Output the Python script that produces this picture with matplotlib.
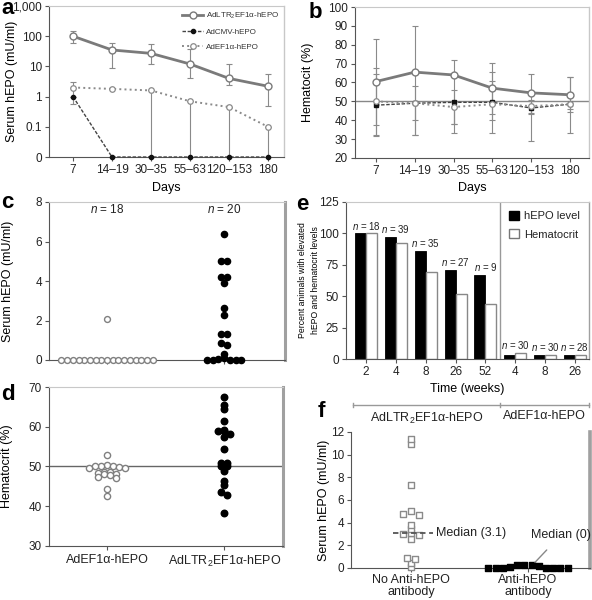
import numpy as np
import matplotlib
matplotlib.use('Agg')
import matplotlib.pyplot as plt
from matplotlib.patches import Patch
from matplotlib.ticker import NullLocator
import matplotlib.transforms as mtransforms

plt.rcParams['font.family'] = ['Liberation Sans', 'DejaVu Sans']
plt.rcParams['mathtext.fontset'] = 'custom'
plt.rcParams['mathtext.rm'] = 'Liberation Sans'
plt.rcParams['mathtext.it'] = 'Liberation Sans:italic'
plt.rcParams['font.size'] = 8.5
plt.rcParams['text.color'] = '#222222'

# ---------------- data ----------------
days = ['7', '14–19', '30–35', '55–63', '120–153', '180']
series_names = ['AdLTR$_2$EF1α-hEPO', 'AdCMV-hEPO', 'AdEF1α-hEPO']

a_ltr = [100, 35, 27, 12, 4, 2.2]
a_ltr_lo = [60, 9, 12, 4, 2.5, 0.5]
a_ltr_hi = [150, 60, 55, 38, 12, 5.5]
a_cmv = [1, 0, 0, 0, 0, 0]
a_cmv_lo = [0.55, 0, 0, 0, 0, 0]
a_cmv_hi = [1, 0, 0, 0, 0, 0]
a_ef = [2, 1.8, 1.6, 0.7, 0.45, 0.1]
a_ef_lo = [1, 1.8, 0, 0, 0, 0]
a_ef_hi = [3, 1.8, 1.6, 0.7, 0.45, 0.1]

b_ltr = [60.5, 65.5, 64, 57, 54.5, 53.5]
b_ltr_lo = [37.5, 32, 38, 43.5, 44, 44.5]
b_ltr_hi = [83, 90, 72, 70.5, 64.5, 63]
b_cmv = [48, 49, 49.5, 49.5, 46.5, 48.5]
b_cmv_lo = [31.5, 32, 38, 40, 43.5, 46]
b_cmv_hi = [64.5, 49, 49.5, 61, 50, 63]
b_ef = [50, 49, 47, 48.5, 47.5, 48.5]
b_ef_lo = [32, 40, 33, 33.5, 29, 33]
b_ef_hi = [67.5, 58, 56, 65.5, 50.5, 50]

groups_cd = ['AdEF1α-hEPO', 'AdLTR$_2$EF1α-hEPO']
c_ef = [0, 0, 0, 0, 0, 0, 0, 0, 0, 2.1, 0, 0, 0, 0, 0, 0, 0, 0]
c_ltr = [6.4, 5.0, 5.0, 4.2, 4.2, 3.9, 2.65, 2.3, 1.3, 1.3, 0.85, 0.75, 0.3,
         0.1, 0.05, 0, 0, 0, 0, 0]
c_n = [18, 20]

d_ef = [53, 50.3, 50.2, 50.1, 50, 49.9, 49.7, 49.5, 48.6, 48.5, 48.3, 48.2,
        48, 47.9, 47.3, 47.2, 44.3, 42.7]
d_ltr = [67.6, 65.5, 64.5, 61.4, 59.2, 59, 59, 58.3, 57.3, 54.3, 51, 50.9,
         50.2, 50, 48.8, 46.4, 45.4, 43.6, 42.9, 38.3]

e_weeks = ['2', '4', '8', '26', '52', '4', '8', '26']
e_hepo = [100, 97, 86, 71, 67, 3, 3, 3]
e_hct = [100, 92, 69, 52, 44, 5, 3, 3]
e_n = [18, 39, 35, 27, 9, 30, 30, 28]
e_groups = ['AdLTR$_2$EF1α-hEPO', 'AdEF1α-hEPO']

f_cats = ['No Anti-hEPO\nantibody', 'Anti-hEPO\nantibody']
f_no = [0.1, 0.4, 0.8, 0.9, 2.6, 2.95, 3.0, 3.05, 3.4, 3.8, 4.7, 4.8, 5.0,
        7.3, 10.9, 11.4]
f_anti = [0, 0, 0, 0, 0.25, 0.3, 0.2, 0.25, 0.1, 0, 0, 0]
f_median = [3.1, 0]

# ---------------- layout helpers ----------------
W, H = 592, 600
fig = plt.figure(figsize=(W / 100, H / 100), dpi=100)


def rect(l, t, r, b):
    return [l / W, 1 - b / H, (r - l) / W, (b - t) / H]


DARK = '#555555'
LIGHT = '#c8c8c8'
MID = '#a0a0a0'


def style(ax, right_w=1.0, right_c=LIGHT, top=True):
    ax.spines['left'].set_color(DARK)
    ax.spines['bottom'].set_color(DARK)
    ax.spines['right'].set_color(right_c)
    ax.spines['right'].set_linewidth(right_w)
    ax.spines['top'].set_color(LIGHT)
    ax.spines['top'].set_visible(top)
    ax.tick_params(length=3, width=0.8, color=DARK, labelsize=8.5, pad=2,
                   labelcolor='#222222')


def row_offsets(vals, tol):
    vals = np.asarray(vals, float)
    order = np.argsort(vals, kind='stable')
    offs = np.zeros(len(vals))
    rows, cur = [], [order[0]]
    for i in order[1:]:
        if vals[i] - vals[cur[0]] <= tol:
            cur.append(i)
        else:
            rows.append(cur)
            cur = [i]
    rows.append(cur)
    for r in rows:
        k = len(r)
        slots = np.arange(k) - (k - 1) / 2
        slot_order = np.argsort(np.abs(slots), kind='stable')
        r_sorted = sorted(r, key=lambda j: -vals[j])
        for j, s in zip(r_sorted, slot_order):
            offs[j] = slots[s]
    return offs


def letter(txt, x, y):
    fig.text(x / W, 1 - y / H, txt, fontsize=16, fontweight='bold',
             va='baseline', ha='left', color='black')


FLOOR = 0.01


def fl(v):
    return np.maximum(np.asarray(v, float), FLOOR)


# ---------------- panel a ----------------
ax = fig.add_axes(rect(49, 6, 284, 157))
style(ax)
x = np.arange(len(days))
for m, lo, hi in [(a_ltr, a_ltr_lo, a_ltr_hi), (a_cmv, a_cmv_lo, a_cmv_hi),
                  (a_ef, a_ef_lo, a_ef_hi)]:
    mm = fl(m)
    ax.errorbar(x, mm, yerr=[mm - fl(lo), fl(hi) - mm], fmt='none',
                ecolor='#8a8a8a', elinewidth=0.8, capsize=2, capthick=0.8,
                clip_on=False)
ax.plot(x, fl(a_ltr), '-o', color='#7a7a7a', lw=2, ms=5, mfc='white',
        mec='#7a7a7a', mew=1, label=series_names[0], clip_on=False, zorder=4)
ax.plot(x, fl(a_cmv), '--o', color='#444444', lw=1, ms=3, mfc='#111111',
        mec='#111111', label=series_names[1], dashes=(2.5, 1.2),
        clip_on=False, zorder=4)
ax.plot(x, fl(a_ef), ':o', color='#8a8a8a', lw=1.4, ms=4, mfc='white',
        mec='#8a8a8a', mew=0.9, label=series_names[2], clip_on=False, zorder=4)
ax.set_yscale('log')
ax.set_ylim(FLOOR, 1000)
ax.set_yticks([0.01, 0.1, 1, 10, 100, 1000])
ax.set_yticklabels(['0', '0.1', '1', '10', '100', '1,000'])
ax.yaxis.set_minor_locator(NullLocator())
ax.set_xticks(x)
ax.set_xticklabels(days)
ax.set_xlim(-0.615, 5.41)
ax.set_ylabel('Serum hEPO (mU/ml)', fontsize=9)
ax.yaxis.set_label_coords(-0.132, 0.5)
ax.set_xlabel('Days', fontsize=9)
ax.xaxis.set_label_coords(0.5, -0.166)
ax.legend(loc='upper right', frameon=False, fontsize=5.8, handlelength=2.6,
          labelspacing=0.95, borderaxespad=0.15, handletextpad=0.4,
          labelcolor='#333333')
letter('a', 1, 14)

# ---------------- panel b ----------------
ax = fig.add_axes(rect(355, 7, 589, 158))
style(ax)
x = np.arange(len(days))
for m, lo, hi in [(b_ltr, b_ltr_lo, b_ltr_hi), (b_cmv, b_cmv_lo, b_cmv_hi),
                  (b_ef, b_ef_lo, b_ef_hi)]:
    mm = np.asarray(m, float)
    ax.errorbar(x, mm, yerr=[mm - np.asarray(lo), np.asarray(hi) - mm],
                fmt='none', ecolor='#8a8a8a', elinewidth=0.8, capsize=2,
                capthick=0.8)
ax.axhline(50, color='#888888', lw=1, zorder=1)
ax.plot(x, b_ltr, '-o', color='#7a7a7a', lw=2, ms=5, mfc='white',
        mec='#7a7a7a', mew=1, zorder=4)
ax.plot(x, b_cmv, '--s', color='#444444', lw=1, ms=3, mfc='#111111',
        mec='#111111', dashes=(2.5, 1.2), zorder=4)
ax.plot(x, b_ef, ':o', color='#8a8a8a', lw=1.4, ms=4, mfc='white',
        mec='#8a8a8a', mew=0.9, zorder=4)
ax.set_ylim(20, 100)
ax.set_yticks(np.arange(20, 101, 10))
ax.set_xticks(x)
ax.set_xticklabels(days)
ax.set_xlim(-0.54, 5.49)
ax.set_ylabel('Hematocit (%)', fontsize=9)
ax.yaxis.set_label_coords(-0.175, 0.5)
ax.set_xlabel('Days', fontsize=9)
ax.xaxis.set_label_coords(0.5, -0.16)
letter('b', 309, 18)

# ---------------- panel c ----------------
L, R = 49, 285
ax = fig.add_axes(rect(L, 202, R, 360))
style(ax, right_w=2.2, right_c=MID)
xl = (-0.496, 1.52)
ax.set_xlim(*xl)
ax.set_ylim(0, 8)
unit = (R - L) / (xl[1] - xl[0])
sp = 5.7 / unit
o0 = row_offsets(c_ef, 0.25)
o1 = row_offsets(c_ltr, 0.25)
ax.scatter(0 + o0 * sp, c_ef, s=18, facecolor='white', edgecolor='#808080',
           lw=1, zorder=3, clip_on=False)
ax.scatter(1 + o1 * sp, c_ltr, s=20, color='black', zorder=3, clip_on=False)
for i, n in enumerate(c_n):
    ax.text(i, 7.6, f'$n$ = {n}', ha='center', va='center', fontsize=8.5)
ax.set_yticks([0, 2, 4, 6, 8])
ax.set_xticks([0, 1])
ax.set_xticklabels(['', ''])
ax.set_ylabel('Serum hEPO (mU/ml)', fontsize=9)
ax.yaxis.set_label_coords(-0.148, 0.5)
letter('c', 1, 208)

# ---------------- panel d ----------------
L, R = 49, 283
ax = fig.add_axes(rect(L, 387, R, 546))
style(ax, right_w=2.2, right_c=MID)
xl = (-0.496, 1.5)
ax.set_xlim(*xl)
ax.set_ylim(30, 70)
unit = (R - L) / (xl[1] - xl[0])
sp = 6.0 / unit
ax.axhline(50, color='#666666', lw=1, zorder=1)
o0 = row_offsets(d_ef, 0.9)
o1 = row_offsets(d_ltr, 0.8)
ax.scatter(0 + o0 * sp, d_ef, s=20, facecolor='white', edgecolor='#808080',
           lw=1, zorder=3)
ax.scatter(1 + o1 * sp, d_ltr, s=22, color='black', zorder=3)
ax.set_yticks(np.arange(30, 71, 10))
ax.set_xticks([0, 1])
ax.set_xticklabels(groups_cd, fontsize=9)
ax.tick_params(axis='x', pad=3)
ax.set_ylabel('Hematocrit (%)', fontsize=9)
ax.yaxis.set_label_coords(-0.154, 0.5)
letter('d', 1, 400)

# ---------------- panel e ----------------
ax = fig.add_axes(rect(346, 202, 589, 359))
style(ax, right_c=MID)
xe = np.arange(len(e_weeks))
bw = 0.37
ax.bar(xe - bw / 2, e_hepo, bw, color='black', edgecolor='black', lw=0.6,
       label='hEPO level')
ax.bar(xe + bw / 2, e_hct, bw, color='white', edgecolor='#888888', lw=1.0,
       label='Hematocrit')
for xi, h, n in zip(xe, np.maximum(e_hepo, e_hct), e_n):
    ax.text(xi, h + 1.5, f'$n$ = {n}', ha='center', va='bottom', fontsize=7)
ax.axvline(4.5, color='#999999', lw=1)
ax.set_xlim(-0.67, 7.47)
ax.set_ylim(0, 125)
ax.set_yticks(np.arange(0, 126, 25))
ax.set_xticks(xe)
ax.set_xticklabels(e_weeks)
ax.set_xlabel('Time (weeks)', fontsize=9)
ax.xaxis.set_label_coords(0.5, -0.153)
ax.set_ylabel('Percent animals with elevated\nhEPO and hematocrit levels',
              fontsize=6.2, linespacing=1.55)
ax.yaxis.set_label_coords(-0.107, 0.5)
ax.legend(handles=[Patch(facecolor='black', edgecolor='black'),
                   Patch(facecolor='white', edgecolor='#777777')],
          labels=['hEPO level', 'Hematocrit'], loc='upper right',
          frameon=False, fontsize=8, handlelength=0.9, handleheight=0.9,
          handletextpad=0.5, labelspacing=0.7, borderaxespad=0.4)
trans = mtransforms.blended_transform_factory(ax.transData, ax.transAxes)
yb = -(405 - 359) / 157
xb = [-0.43, 4.48, 7.47]
ax.plot([xb[0], xb[-1]], [yb, yb], transform=trans, color='#999999', lw=1,
        clip_on=False)
for xv in xb:
    ax.plot([xv, xv], [yb - 0.015, yb + 0.015], transform=trans,
            color='#999999', lw=1, clip_on=False)
for i, g in enumerate(e_groups):
    ax.text((xb[i] + xb[i + 1]) / 2, yb - 0.035, g, transform=trans,
            ha='center', va='top', fontsize=9)
letter('e', 296, 210)

# ---------------- panel f ----------------
L, R = 351, 590
ax = fig.add_axes(rect(L, 432, R, 568))
style(ax, right_w=2.6, right_c=MID, top=False)
xl = (-0.513, 1.53)
ax.set_xlim(*xl)
ax.set_ylim(0, 12)
unit = (R - L) / (xl[1] - xl[0])
o0 = row_offsets(f_no, 0.3)
o1 = row_offsets(f_anti, 0.35)
ax.scatter(0 + o0 * 8.0 / unit, f_no, s=24, marker='s', facecolor='white',
           edgecolor='#8a8a8a', lw=1, zorder=3, clip_on=False)
ax.scatter(1 + o1 * 7.2 / unit, f_anti, s=24, marker='s', color='black',
           zorder=3, clip_on=False)
ax.plot([-0.154, 0.19], [f_median[0]] * 2, ls=(0, (3, 2)), color='#555555',
        lw=1.3, zorder=4)
ax.text(0.21, f_median[0], f'Median ({f_median[0]})', ha='left',
        va='center', fontsize=9)
ax.annotate(f'Median ({f_median[1]})', xy=(1.06, 0.5), xytext=(1.28, 2.9),
            ha='center', va='center', fontsize=9,
            arrowprops=dict(arrowstyle='-', color='#888888', lw=1,
                            shrinkA=6, shrinkB=0))
ax.set_yticks(np.arange(0, 13, 2))
ax.set_xticks([0, 1])
ax.set_xticklabels(f_cats, fontsize=9, linespacing=1.1)
ax.tick_params(axis='x', pad=1)
ax.set_ylabel('Serum hEPO (mU/ml)', fontsize=9)
ax.yaxis.set_label_coords(-0.088, 0.5)
letter('f', 318, 417)

fig.savefig('out.png', dpi=100)
